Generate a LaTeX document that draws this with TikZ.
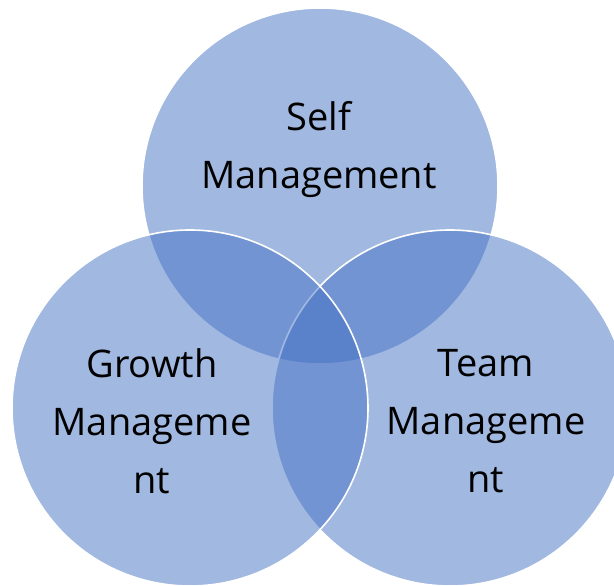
\documentclass[tikz,border=0pt]{standalone}
\usepackage{fontspec}
\setmainfont{Open Sans}
\usetikzlibrary{positioning}

\definecolor{accentblue}{HTML}{4472C4}

\begin{document}
\begin{tikzpicture}
	[x=1pt,y=1pt,
	set/.style={circle,minimum size=356pt,inner sep=0pt,
		fill=accentblue,fill opacity=0.5,draw=white,draw opacity=1,line width=1.6pt},
	setlabel/.style={align=center,font=\fontsize{38}{58}\selectfont,text=black}]
	\clip (0,0) rectangle (614,586);
	\fill[white] (0,0) rectangle (614,586);
	% the three sets, back to front
	\node[set] (self) at (320,400) {};
	\node[set] (team) at (450,178) {};
	\node[set] (growth) at (190,178) {};
	% labels
	\node[setlabel] (selflabel) at (319,436) {Self\\Management};
	\node[setlabel] (growthlabel) at (152,165) {Growth\\Manageme\\nt};
	\node[setlabel] (teamlabel) at (486,165) {Team\\Manageme\\nt};
\end{tikzpicture}
\end{document}
